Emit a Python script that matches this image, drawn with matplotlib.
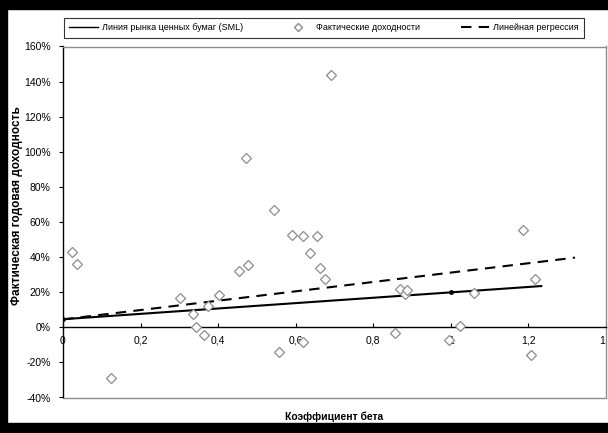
import matplotlib
matplotlib.use("Agg")
import matplotlib.pyplot as plt
from matplotlib.patches import Rectangle
from matplotlib.ticker import FuncFormatter
from matplotlib.lines import Line2D

plt.rcParams['font.family'] = ['Liberation Sans', 'DejaVu Sans']

# фактические доходности (бета, доходность %)
beta = [0.022, 0.037, 0.124, 0.302, 0.336, 0.343, 0.364, 0.375, 0.401, 0.454,
        0.471, 0.477, 0.543, 0.558, 0.590, 0.618, 0.620, 0.637, 0.655, 0.663,
        0.676, 0.691, 0.857, 0.870, 0.883, 0.887, 0.994, 1.023, 1.059, 1.187,
        1.207, 1.218]
ret = [42.8, 36.3, -29.0, 16.5, 7.7, 0.3, -4.3, 12.0, 18.4, 31.8,
       96.5, 35.6, 66.6, -14.3, 52.8, -8.6, 52.2, 42.5, 51.8, 33.6,
       27.8, 143.5, -3.3, 21.8, 19.0, 21.0, -7.0, 0.5, 19.6, 55.6,
       -16.0, 27.6]

# линия рынка ценных бумаг (SML)
sml_beta = [0, 1, 1.233]
sml_ret = [4.6, 19.9, 23.5]

# линейная регрессия
reg_beta = [0, 1.32]
reg_ret = [4.5, 39.7]

x_ticks = [0, 0.2, 0.4, 0.6, 0.8, 1, 1.2, 1.4]
y_ticks = [-40, -20, 0, 20, 40, 60, 80, 100, 120, 140, 160]

W, H = 608, 433
fig = plt.figure(figsize=(W / 100, H / 100), dpi=100)
ax = fig.add_axes([63 / W, 1 - 397.5 / H, (606 - 63) / W, (397.5 - 46.5) / H])

ax.plot(beta, ret, linestyle='none', marker='D', markersize=5,
        markerfacecolor='white', markeredgecolor='#8c8c8c', markeredgewidth=0.9,
        zorder=4)
ax.plot(sml_beta, sml_ret, color='black', lw=1.5, marker='o', markersize=2.5,
        markevery=[0, 1], zorder=3)
ax.plot(reg_beta, reg_ret, color='black', lw=1.5, dashes=(5, 3.5), zorder=3)

ax.set_xlim(0, 1.4)
ax.set_ylim(-40, 160)
ax.set_xticks(x_ticks)
ax.set_yticks(y_ticks)
ax.xaxis.set_major_formatter(FuncFormatter(lambda v, p: ('%g' % v).replace('.', ',')))
ax.yaxis.set_major_formatter(FuncFormatter(lambda v, p: '%d%%' % v))

# рамка области построения серая, ось X проходит через 0
for s in ['top', 'right']:
    ax.spines[s].set_color('#8c8c8c')
    ax.spines[s].set_linewidth(1)
ax.spines['left'].set_color('black')
ax.spines['left'].set_linewidth(1)
ax.spines['bottom'].set_position(('data', 0))
ax.spines['bottom'].set_color('black')
ax.spines['bottom'].set_linewidth(1)
ax.add_line(Line2D([0, 1], [0, 0], transform=ax.transAxes, color='#8c8c8c',
                   lw=1, clip_on=False))
ax.tick_params(axis='y', direction='out', length=3, width=0.8, pad=6,
               labelsize=7.5, colors='black')
ax.tick_params(axis='x', direction='in', length=3, width=0.8, pad=6,
               labelsize=7.5, colors='black')

fig.text(17 / W, 1 - 206 / H, 'Фактическая годовая доходность', rotation=90,
         ha='center', va='center', fontsize=8.5, fontweight='bold')
fig.text(334 / W, 1 - 417 / H, 'Коэффициент бета', ha='center', va='center',
         fontsize=7.5, fontweight='bold')

# легенда
handles = [Line2D([], [], color='black', lw=1),
           Line2D([], [], linestyle='none', marker='D', markersize=4.5,
                  markerfacecolor='white', markeredgecolor='#8c8c8c'),
           Line2D([], [], color='black', lw=1.5, dashes=(5, 3.5))]
labels = ['Линия рынка ценных бумаг (SML)', 'Фактические доходности',
          'Линейная регрессия']
leg = fig.legend(handles, labels, loc='center', ncol=3,
                 bbox_to_anchor=(324 / W, 1 - 28 / H), fontsize=6.5,
                 frameon=True, fancybox=False, handlelength=3.2,
                 columnspacing=4.5, borderpad=0.6, handletextpad=0.4)
leg.get_frame().set_edgecolor('black')
leg.get_frame().set_linewidth(0.8)

# чёрная рамка рисунка
fig.patches.append(Rectangle((0, 0), 7 / W, 1, transform=fig.transFigure,
                             color='black', zorder=10))
fig.patches.append(Rectangle((0, 1 - 9 / H), 1, 9 / H, transform=fig.transFigure,
                             color='black', zorder=10))
fig.patches.append(Rectangle((0, 0), 1, 10 / H, transform=fig.transFigure,
                             color='black', zorder=10))

fig.savefig('out.png', dpi=100)
